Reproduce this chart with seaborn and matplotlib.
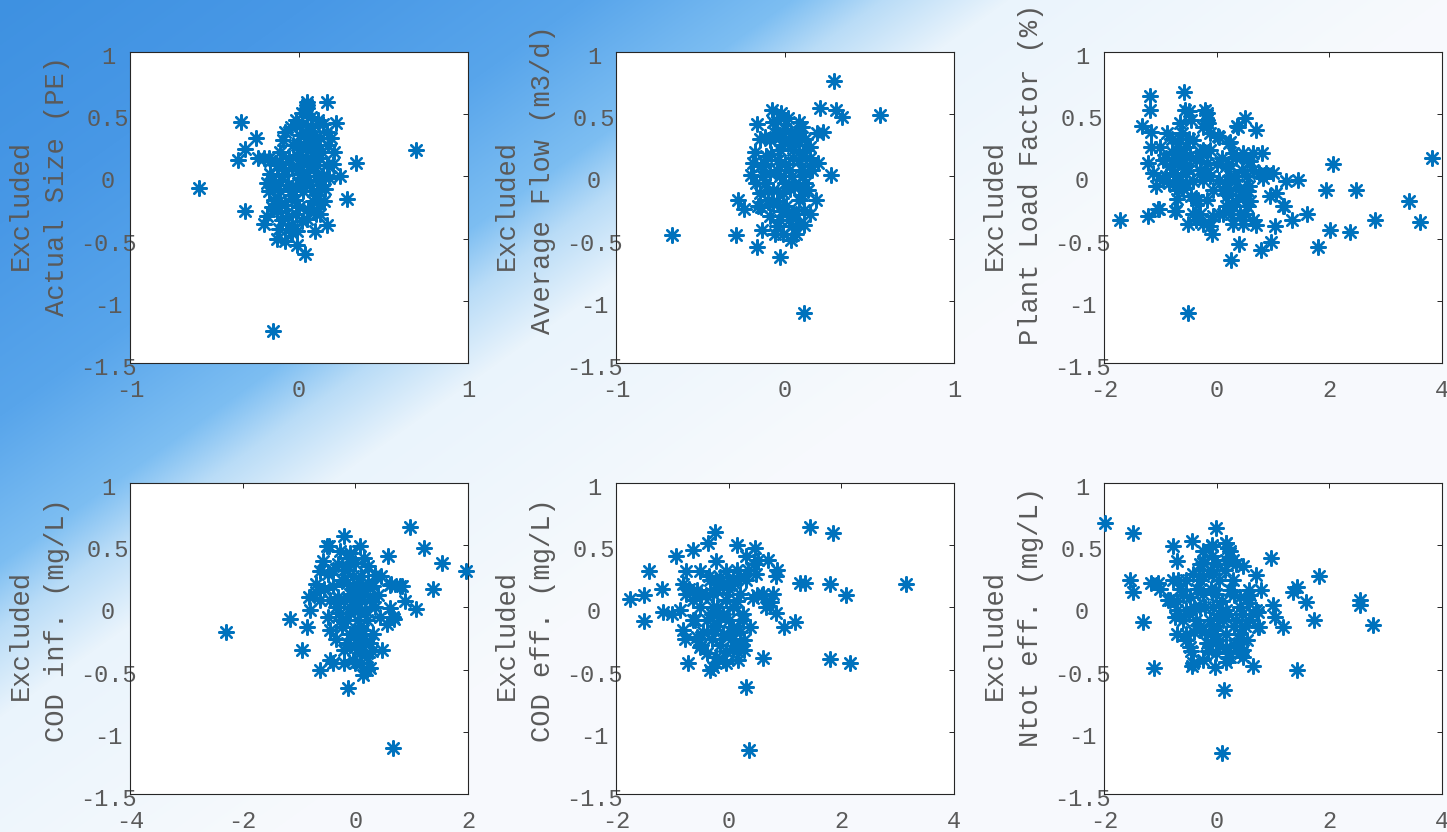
import numpy as np
import matplotlib
matplotlib.use("Agg")
import matplotlib.pyplot as plt
from matplotlib.transforms import ScaledTranslation
import seaborn as sns
import pandas as pd

# ---------------------------------------------------------------- data
size_x = [-0.59, -0.345, -0.254, -0.32, -0.36, -0.24, -0.21, -0.18, -0.32, 0.69, 0.337, 0.24, 0.285,
          0.22, 0.164, 0.045, -0.155, 0.036, -0.014, 0.164, 0.124, 0.21, -0.21, -0.19, -0.13, -0.08,
          0.114, -0.02, 0.016, 0.05, 0.045, -0.083, 0.075, 0.164, 0.19, 0.134, -0.093, -0.11, -0.13,
          -0.17, -0.19, -0.18, -0.15, -0.13, -0.014, 0.045, 0.016, -0.043, -0.063, 0.085, 0.154, 0.144,
          0.104, 0.045, -0.014, -0.043, 0.006, -0.063, -0.11, 0.026, 0.065, -0.024, -0.083, 0.065,
          0.124, 0.006, -0.034, 0.095, 0.164, 0.18, 0.124, 0.114, 0.055, 0.095, -0.14, -0.17,
          0.0, 0.05, 0.1, -0.1, -0.05, 0.0, -0.1, 0.08, 0.12, 0.0, 0.05, -0.05, 0.1, -0.15, -0.1,
          0.15, 0.2, -0.05, 0.02, 0.17, -0.12, 0.0, 0.06, -0.02, 0.1, -0.16,
          -0.08, 0.08, -0.02, 0.04, -0.12, 0.12, 0.03, -0.06, 0.09, -0.04, 0.14, 0.07]
size_y = [-0.09, 0.44, 0.31, 0.22, 0.13, 0.15, 0.15, 0.15, -0.28, 0.21, 0.11, 0.0, -0.18,
          0.43, 0.60, 0.60, -1.24, -0.62, -0.55, -0.39, -0.30, 0.20, -0.38, -0.32, -0.50, -0.52,
          0.45, 0.45, 0.51, 0.55, 0.57, 0.36, 0.40, 0.36, 0.31, 0.20, 0.29, 0.20, 0.09,
          0.02, -0.055, -0.12, -0.19, -0.28, -0.44, -0.34, -0.36, -0.39, -0.32, -0.20, -0.10, 0.01,
          0.09, 0.15, 0.17, 0.065, -0.015, -0.07, -0.12, -0.12, -0.07, -0.19, -0.23, 0.28,
          0.31, 0.33, 0.25, 0.20, 0.09, -0.015, -0.07, -0.15, -0.26, -0.44, -0.07, 0.12,
          0.05, 0.0, 0.0, 0.0, -0.15, -0.25, -0.35, -0.12, 0.15, 0.25, 0.35, 0.40, 0.25, -0.05, 0.1,
          -0.2, 0.1, -0.45, 0.42, 0.25, -0.42, 0.1, 0.08, -0.08, -0.3, -0.25,
          0.05, 0.2, -0.3, 0.22, -0.2, -0.22, -0.05, 0.15, 0.33, -0.45, 0.42, 0.48]

flow_x = [-0.67, -0.29, -0.28, -0.24, -0.166, -0.137, -0.027, 0.11, 0.29, 0.21, 0.30, 0.34, 0.565,
          0.274, 0.19, 0.223, 0.194, -0.166, -0.075, -0.022, 0.016, 0.085, -0.072, 0.037, -0.12,
          -0.18, -0.2, -0.19, -0.15, -0.16, -0.09, -0.062, -0.013, 0.037, 0.066, 0.115, 0.115, 0.184,
          0.135, 0.105, 0.085, 0.125, 0.046, -0.03, -0.11, -0.09, -0.03, 0.026, 0.056, -0.013, -0.072,
          -0.072, 0.007, 0.066, 0.026, -0.03, 0.085, 0.016, -0.03, -0.09, 0.075, -0.13, -0.14, 0.145,
          0.145, 0.085, -0.04, -0.1, 0.085,
          0.0, -0.05, 0.05, 0.0, -0.05, 0.03, 0.1, -0.12, -0.15, 0.0, 0.06, -0.06, 0.1, 0.15, 0.04,
          -0.05, -0.12, 0.15, -0.17, 0.12, 0.05,
          -0.08, 0.08, -0.02, 0.04, -0.1, 0.12, 0.08, -0.02, 0.1, -0.14, 0.16, -0.05]
flow_y = [-0.47, -0.47, -0.19, -0.26, -0.57, -0.43, -0.65, -1.10, 0.77, 0.55, 0.53, 0.475, 0.49,
          0.01, 0.35, 0.36, 0.11, 0.42, 0.53, 0.51, 0.47, 0.44, 0.44, 0.35, 0.32,
          0.20, 0.01, 0.105, -0.135, -0.24, -0.32, -0.46, -0.46, -0.51, -0.46, -0.39, -0.27, -0.19,
          -0.11, 0.0, 0.13, 0.21, 0.21, 0.21, 0.16, 0.025, 0.0, 0.05, -0.08, -0.135, -0.11,
          -0.22, -0.24, -0.30, -0.35, -0.35, -0.19, 0.27, 0.32, 0.29, 0.29, 0.0, 0.08, 0.08,
          0.24, 0.36, 0.13, -0.19, -0.08,
          0.1, 0.05, 0.15, -0.05, -0.2, -0.1, 0.05, 0.1, 0.3, 0.38, 0.3, 0.35, -0.15, -0.3, -0.4,
          -0.4, -0.05, 0.15, -0.05, 0.3, -0.3,
          0.18, 0.2, -0.28, 0.0, -0.12, -0.05, -0.38, 0.25, 0.4, -0.25, 0.05, 0.45]

plf_x = [-1.72, -1.19, -1.19, -1.32, -1.16, -1.16, -1.22, -1.22, -1.03, -0.73, -0.58, -0.5, -0.51,
         -0.2, -0.18, 0.02, 0.22, 0.36, 0.51, 0.70, 0.81, 0.25, 0.395, 0.78, 0.97, 1.04, 1.34, 1.6,
         1.45, 1.23, 0.94, 1.19, 1.79, 1.94, 2.02, 2.06, 2.37, 2.47, 2.81, 3.42, 3.61, 3.83, 1.0, 0.82,
         -1.13, -1.07, -0.95, -1.0, -0.89, -0.95, -0.83, -0.71, -0.65, -0.62, -0.68, -0.77, -0.65,
         -0.68, -0.71, -0.54, -0.42, -0.48, -0.54, -0.36, -0.24, -0.18, -0.12, -0.42, -0.45, -0.33,
         -0.21, -0.18, -0.15, -0.12, 0.05, 0.23, 0.29, 0.47, 0.53, 0.17, 0.23, 0.05, -0.12, -0.24,
         -0.06, -0.18, -0.36, 0.11, 0.23, 0.35, 0.53, 0.64, 0.76, 0.88, 0.58, 0.47, 0.53, 0.41, 0.29,
         0.17, 0.11, 0.29, 0.47, 0.64, 0.70, -0.06, -0.12, -0.09, -0.24, -0.36, -0.51, -0.42, 0.05,
         1.06, 1.17, 0.64, 0.38, -0.24, -0.54, -0.74, -0.74, -1.04, -0.57,
         -0.8, -0.75, -0.6, -0.7, -0.6, -0.85, -0.5, -0.65, -0.9, -0.3, 0.2, 0.3, 0.4, 0.35, 0.15,
         0.45, 0.6, 0.5, 0.1, 0.25, -0.3,
         -0.8, -0.55, -0.9, 0.0, 0.35, 0.2, 0.55, -0.45, -0.3, 0.6]
plf_y = [-0.35, 0.65, 0.53, 0.405, 0.36, 0.24, 0.105, -0.32, -0.26, -0.28, 0.68, 0.525, -1.10,
         0.53, 0.45, 0.325, 0.27, 0.405, 0.47, 0.37, 0.185, -0.67, -0.54, -0.59, -0.53, -0.40, -0.35, -0.30,
         -0.03, -0.04, -0.16, -0.24, -0.57, -0.11, -0.43, 0.10, -0.45, -0.11, -0.35, -0.195, -0.365, 0.145, 0.03, -0.01,
         0.025, -0.08, -0.03, 0.24, 0.35, 0.13, 0.08, 0.185, 0.43, 0.35, 0.27, 0.025, -0.03,
         -0.11, -0.18, 0.24, 0.29, 0.16, 0.08, 0.13, 0.21, 0.105, 0.21, -0.04, -0.16, -0.19,
         0.025, 0.51, 0.43, 0.35, 0.32, 0.28, 0.185, 0.185, 0.13, 0.08, 0.0, -0.03, 0.0, -0.03,
         -0.11, -0.19, -0.19, -0.11, -0.11, -0.03, 0.0, 0.05, 0.025, 0.025, -0.08, -0.16, -0.24, -0.30, -0.24,
         -0.24, -0.30, -0.38, -0.38, -0.35, -0.39, -0.32, -0.40, -0.46, -0.38, -0.35, -0.38, -0.30, -0.30,
         -0.135, -0.24, 0.185, 0.40, 0.40, 0.025, -0.08, -0.28, -0.26, 0.53,
         0.2, 0.1, 0.15, 0.0, -0.1, -0.05, 0.3, 0.3, 0.15, 0.2, 0.1, 0.0, -0.1, -0.2, -0.05,
         0.05, -0.2, -0.3, 0.15, -0.3, 0.05,
         0.3, -0.05, 0.0, 0.1, 0.15, -0.15, -0.12, 0.45, -0.3, 0.12]

codin_x = [-2.30, -1.16, -0.86, -0.94, -0.63, -0.80, -0.83, -0.135, 0.675, 0.97, 1.22, 1.53, 1.96,
           1.37, 0.575, 0.63, 0.82, 0.88, 1.08, 0.68, 0.47, 0.08, -0.51, -0.21, -0.57, 0.2, 0.14,
           -0.45, -0.39, 0.26, -0.035, 0.08, -0.21, -0.27, -0.095, -0.005, 0.23, 0.35, 0.32, 0.26,
           0.17, 0.44, 0.56, 0.62, 0.62, 0.79, -0.63, -0.69, -0.48, -0.39, -0.45, -0.48, -0.45, -0.24,
           -0.27, -0.30, -0.24, -0.035, -0.095, 0.025, -0.095, 0.05, 0.14, 0.32, 0.26, 0.025, -0.095,
           -0.005, -0.15, 0.17, 0.05, -0.15, -0.69, -0.63, 0.675, -0.47,
           0.0, -0.1, 0.1, -0.2, -0.15, 0.05, -0.05, 0.1, -0.2, 0.2, -0.1, 0.1, 0.2, 0.0, -0.35,
           -0.35, 0.35, 0.4, -0.3, 0.15, 0.1, -0.55, -0.2,
           -0.05, 0.08, -0.25, 0.22, -0.12, 0.3, 0.1, -0.4, 0.0, 0.15, -0.15, 0.45]
codin_y = [-0.195, -0.093, -0.16, -0.34, -0.50, -0.02, 0.086, -0.65, -1.13, 0.65, 0.475, 0.355, 0.29,
           0.15, 0.41, 0.19, 0.17, 0.05, -0.01, -0.09, -0.34, 0.49, 0.49, 0.57, 0.375, -0.50, -0.54,
           -0.42, -0.45, -0.49, -0.42, -0.37, -0.34, 0.45, 0.435, 0.355, 0.33, 0.26, 0.17, 0.06,
           -0.02, -0.075, -0.13, -0.007, 0.18, 0.17, 0.29, 0.19, 0.27, 0.17, 0.06, -0.075, -0.18, -0.155,
           -0.047, 0.086, 0.22, 0.25, 0.11, 0.033, -0.047, -0.10, -0.18, -0.21, -0.29, -0.25, -0.21,
           -0.32, -0.29, 0.14, 0.18, 0.33, 0.126, 0.06, -0.075, 0.49,
           0.0, 0.0, 0.05, 0.05, -0.1, -0.2, 0.15, 0.25, 0.3, -0.1, -0.3, -0.3, -0.4, -0.45, 0.0,
           -0.25, 0.0, 0.1, 0.35, 0.4, -0.45, 0.15, -0.45,
           0.1, -0.15, -0.1, 0.2, 0.4, -0.35, 0.1, 0.3, -0.2, -0.25, 0.2, 0.25]

codeff_x = [-1.75, -1.50, -1.50, -1.41, -1.19, -1.16, -1.01, -0.87, -0.93, -0.63, -0.37, -0.25, -0.22,
            -0.72, -0.81, -0.78, -0.34, 0.31, 0.36, 0.61, 0.99, 1.18, 1.26, 1.35, 1.45, 1.86, 1.79,
            2.08, 1.79, 2.16, 3.14, 0.14, 0.46, 0.52, 0.70, 0.86, 0.84, 0.78, 0.75, 0.84, 0.67, 0.61,
            0.43, 0.31, 0.14, -0.04, 0.31, -0.51, -0.75, -0.81, -0.75, -0.57, -0.34, -0.28, -0.51,
            -0.63, -0.39, -0.16, 0.076, 0.195, 0.25, 0.076, -0.1, -0.28, -0.51, -0.39, -0.22, -0.1,
            0.076, 0.16, 0.28, 0.28, 0.37, -0.28, -0.04, -0.1, -0.16, 0.076, -0.28, -0.57, -0.63, 0.49,
            -0.2, -0.1, 0.0, -0.3, -0.4, -0.2, 0.0, 0.15, -0.45, -0.3, -0.15, 0.05, 0.2, -0.05, 0.15,
            -0.2, -0.6, -0.5, 0.1, 0.2, 0.45, 0.6,
            -0.35, 0.35, -0.05, 0.2, -0.5, 0.5, 0.25, -0.7]
codeff_y = [0.065, 0.10, -0.107, 0.29, 0.15, -0.035, -0.05, -0.02, 0.41, 0.46, 0.515, 0.61, 0.37,
            -0.45, -0.18, -0.25, -0.50, -0.64, -1.15, -0.41, -0.155, -0.12, 0.2, 0.2, 0.65, 0.595, 0.19,
            0.10, -0.415, -0.45, 0.19, 0.50, 0.475, 0.38, 0.38, 0.30, 0.25, 0.11, 0.046, -0.047, 0.006, 0.11,
            0.073, 0.22, 0.30, 0.29, 0.41, 0.29, 0.29, 0.19, 0.11, 0.14, 0.22, 0.11, 0.006,
            -0.10, -0.10, -0.075, 0.006, 0.11, -0.10, -0.155, -0.21, -0.18, -0.32, -0.37, -0.40, -0.42,
            -0.34, -0.42, -0.34, -0.26, -0.155, 0.006, 0.06, 0.17, 0.245, 0.22, -0.48, -0.235, 0.06, 0.27,
            0.0, -0.05, -0.1, -0.05, 0.1, 0.15, 0.15, 0.05, -0.2, -0.25, -0.3, -0.25, -0.2, -0.35, -0.35,
            -0.15, -0.1, 0.1, 0.2, 0.25, 0.35, 0.1,
            0.25, 0.3, -0.45, -0.3, -0.3, 0.1, -0.05, 0.15]

ntot_x = [-1.98, -1.49, -1.53, -1.49, -1.30, -1.11, -1.16, -1.04, -1.01, -0.77, -0.70, -0.77, -0.68,
          -0.86, -0.44, -0.09, -0.02, 0.17, 0.2, 0.29, 0.47, 0.97, 0.70, 0.79, 1.0, 1.03, 1.17, 1.35,
          1.43, 1.59, 1.72, 1.81, 1.43, 2.55, 2.55, 2.78, 0.13, 0.1, 0.64, -0.44, -0.035, 0.17, 0.47,
          0.73, 0.73, 0.53, 0.47, -0.09, 0.17, -0.24, -0.09, -0.24, -0.42, -0.54, -0.30, -0.065, 0.05,
          0.29, 0.58, 0.41, 0.23, -0.005, -0.24, -0.48, -0.83, -0.71, -0.54, -0.30, -0.065, 0.17, 0.41,
          0.58, 0.70, 0.76, 0.58, 0.35, 0.11, -0.12, -0.36, -0.60, -0.74, -0.71, -0.54, -0.30, -0.065,
          0.17, 0.41, 0.35, 0.17, -0.005, -0.18, -0.48, -0.54, 0.41, 0.23, -0.005, -0.42, -0.24, 0.23, 0.17, 0.35,
          -0.2, -0.4, -0.1, -0.35, -0.5, -0.2, 0.0, 0.3, 0.1, 0.3, -0.6, -0.4, 0.05, 0.3, -0.3,
          -0.1, 0.45, 0.5, -0.65, -0.15, 0.2,
          -0.25, 0.0, 0.15, -0.45, 0.2, 0.4, 0.6, -0.7, -0.3, 0.05]
ntot_y = [0.68, 0.595, 0.22, 0.12, -0.12, -0.485, 0.20, 0.20, 0.15, 0.49, 0.37, 0.22, 0.22,
          0.06, 0.53, 0.49, 0.635, 0.52, 0.475, 0.38, 0.33, 0.395, 0.26, 0.14, 0.02, -0.075, -0.155, 0.126,
          0.166, 0.046, -0.10, 0.25, -0.50, 0.06, 0.02, -0.14, -0.66, -1.17, -0.47, -0.47, -0.48, -0.44, -0.40,
          -0.035, -0.155, -0.26, -0.34, 0.50, 0.515, 0.45, 0.41, 0.355, 0.27, 0.22, 0.22, 0.27, 0.22,
          0.22, 0.14, 0.086, 0.14, 0.11, 0.11, 0.086, 0.06, -0.02, -0.02, 0.006, 0.006, -0.02, 0.006,
          0.033, -0.02, -0.155, -0.10, -0.10, -0.10, -0.10, -0.10, -0.10, -0.075, -0.21, -0.21, -0.18, -0.18,
          -0.21, -0.21, -0.32, -0.32, -0.26, -0.29, -0.32, -0.26, -0.37, -0.40, -0.37, -0.45, -0.42, 0.45, 0.38, 0.35,
          0.0, 0.0, 0.15, 0.15, -0.05, -0.2, -0.15, -0.15, 0.05, 0.1, 0.1, -0.2, -0.3, -0.3, 0.35,
          0.3, -0.05, -0.15, 0.15, -0.35, -0.05,
          0.25, 0.35, 0.3, -0.35, -0.4, -0.25, 0.1, 0.05, -0.15, -0.05]

label_lines = ["Actual Size (PE)", "Average Flow (m3/d)", "Plant Load Factor (%)",
               "COD inf. (mg/L)", "COD eff. (mg/L)", "Ntot eff. (mg/L)"]
x_limits = [(-1, 1), (-1, 1), (-2, 4), (-4, 2), (-2, 4), (-2, 4)]
x_ticks = [[-1, 0, 1], [-1, 0, 1], [-2, 0, 2, 4], [-4, -2, 0, 2], [-2, 0, 2, 4], [-2, 0, 2, 4]]
y_ticks = [1, 0.5, 0, -0.5, -1, -1.5]
series = [(size_x, size_y), (flow_x, flow_y), (plf_x, plf_y),
          (codin_x, codin_y), (codeff_x, codeff_y), (ntot_x, ntot_y)]

# ---------------------------------------------------------------- style
sns.set_theme(style="white")
plt.rcParams['font.family'] = ['Liberation Mono', 'DejaVu Sans Mono']
plt.rcParams['axes.unicode_minus'] = False

W, H = 1447, 832
fig = plt.figure(figsize=(W / 100, H / 100), dpi=100)

# slide backdrop: blue sweep in the upper-left corner fading to white
yy, xx = np.mgrid[0:H, 0:W]
t = xx / 900 + yy / 640
stops = [0.0, 0.35, 0.65, 0.88, 0.98, 1.12, 1.6]
red = [62, 72, 88, 125, 185, 234, 247]
green = [145, 152, 165, 190, 220, 244, 250]
blue = [225, 230, 235, 242, 247, 252, 253]
img = np.dstack([np.interp(t, stops, c) for c in (red, green, blue)]) / 255
bg = fig.add_axes([0, 0, 1, 1], zorder=-10)
bg.imshow(img, aspect='auto', interpolation='bilinear')
bg.set_axis_off()

ink = '#262626'
txt = '#5a5a5a'
lefts = [130, 616, 1104]
tops = [52, 483]
aw, ah = 338, 311
down = ScaledTranslation(0, -3 / 100, fig.dpi_scale_trans)

for i, ((xs, ys), lab, xl, xt) in enumerate(zip(series, label_lines, x_limits, x_ticks)):
    left = lefts[i % 3]
    top = tops[i // 3]
    ax = fig.add_axes([left / W, 1 - (top + ah) / H, aw / W, ah / H])
    ax.set_facecolor('white')
    df = pd.DataFrame({'x': xs, 'y': ys})
    sns.scatterplot(data=df, x='x', y='y', ax=ax, marker=(8, 2, 0), color='#0072BD',
                    s=110, linewidth=1.7, legend=False, clip_on=False, zorder=3)
    ax.set_xlim(*xl)
    ax.set_ylim(-1.5, 1)
    ax.set_xticks(xt)
    ax.set_yticks(y_ticks)
    ax.set_xticklabels([f"{v:g}" for v in xt])
    ax.set_yticklabels([f"{v:g}" for v in y_ticks])
    ax.set_xlabel('')
    ax.set_ylabel('')
    for sp in ax.spines.values():
        sp.set_color(ink)
        sp.set_linewidth(0.8)
    ax.tick_params(axis='both', direction='in', length=3.6, width=0.7, color=ink,
                   top=True, right=True, labelsize=17, labelcolor=txt)
    ax.tick_params(axis='x', pad=11.5)
    ax.tick_params(axis='y', pad=15.8)
    for tl in ax.get_yticklabels():
        tl.set_ha('center')
        tl.set_transform(tl.get_transform() + down)

    # two-line y label
    cy = top + ah / 2
    fig.text((left - 109) / W, 1 - (cy + 62) / H, "Excluded", rotation=90,
             ha='center', va='bottom', fontsize=19.5, color=txt)
    fig.text((left - 73) / W, 1 - (cy + 16 + len(lab) * 5.8) / H, lab, rotation=90,
             ha='center', va='bottom', fontsize=19.5, color=txt)

fig.savefig("out.png", dpi=100)
